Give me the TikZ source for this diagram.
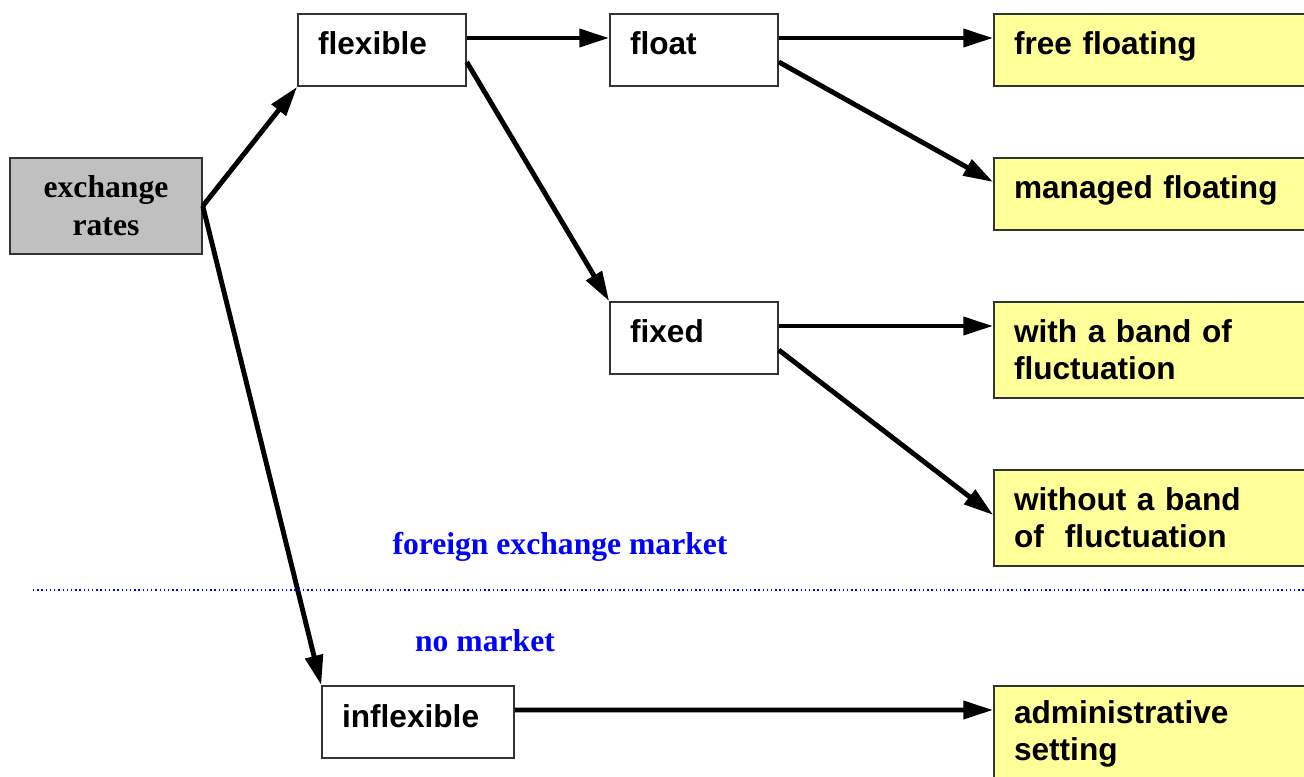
\documentclass[tikz,border=0pt]{standalone}
\usepackage{fontspec}
\setmainfont{Liberation Serif}
\setsansfont{Liberation Sans}
\usetikzlibrary{arrows.meta}
\definecolor{boxgray}{RGB}{192,192,192}
\definecolor{boxyellow}{RGB}{255,255,153}
\definecolor{markblue}{RGB}{0,0,255}

\begin{document}
\begin{tikzpicture}[
        box/.style={draw=black!80, line width=0.45pt, rectangle, inner xsep=0.2cm, inner ysep=0pt,
            align=left, font=\sffamily\bfseries\fontsize{9}{10.5}\selectfont},
        oneline/.style={text height=0.24cm, text depth=0.14cm, minimum height=0.72cm},
        choice/.style={box, oneline, text width=1.28cm},
        regime/.style={box, fill=boxyellow, text width=2.9cm},
        link/.style={-{Triangle[length=8.5pt,width=5pt]}, line width=1.4pt},
        market/.style={text=markblue, anchor=base, font=\rmfamily\bfseries\fontsize{9}{10.5}\selectfont}
    ]
    \clip (0,0) rectangle (13.04,7.76);

    \node[box, fill=boxgray, align=center, inner xsep=0pt, minimum width=1.92cm, minimum height=0.96cm,
        font=\rmfamily\bfseries\fontsize{9}{10.8}\selectfont] (er) at (1.06,5.70) {exchange\\rates};

    \node[choice]                    (flexible)   at (3.82,7.26) {flexible};
    \node[choice]                    (float)      at (6.94,7.26) {float};
    \node[choice]                    (fixed)      at (6.94,4.38) {fixed};
    \node[choice, text width=1.52cm] (inflexible) at (4.18,0.54) {inflexible};

    \node[regime, oneline]               (freefl)  at (11.59,7.26) {free floating};
    \node[regime, oneline]               (managed) at (11.59,5.82) {managed floating};
    \node[regime, minimum height=0.96cm] (band)    at (11.59,4.26) {with a band of\\fluctuation};
    \node[regime, minimum height=0.96cm] (noband)  at (11.59,2.58) {without a band\\of~ fluctuation};
    \node[regime, minimum height=0.96cm] (admin)   at (11.59,0.42) {administrative\\setting};

    \draw[link] (er.east) -- (flexible.south west);
    \draw[link] (er.east) -- (inflexible.north west);
    \draw[link] ([yshift=0.12cm]flexible.east) -- ([yshift=0.12cm]float.west);
    \draw[link] ([yshift=-0.12cm]flexible.east) -- (fixed.north west);
    \draw[link] ([yshift=0.12cm]float.east) -- ([yshift=0.12cm]freefl.west);
    \draw[link] ([yshift=-0.12cm]float.east) -- ([yshift=0.12cm]managed.west);
    \draw[link] ([yshift=0.12cm]fixed.east) -- ([yshift=0.24cm]band.west);
    \draw[link] ([yshift=-0.12cm]fixed.east) -- ([yshift=0.03cm]noband.west);
    \draw[link] ([yshift=0.12cm]inflexible.east) -- ([yshift=0.24cm]admin.west);

    \coordinate (divl) at (0.33,1.86);
    \coordinate (divr) at (13.04,1.86);
    \draw[markblue, line width=0.4pt, dash pattern=on 0.4pt off 0.8pt] (divl) -- (divr);

    \node[market] (fxm)  at (5.60,2.21) {foreign exchange market};
    \node[market] (nomk) at (4.85,1.24) {no market};
\end{tikzpicture}
\end{document}
